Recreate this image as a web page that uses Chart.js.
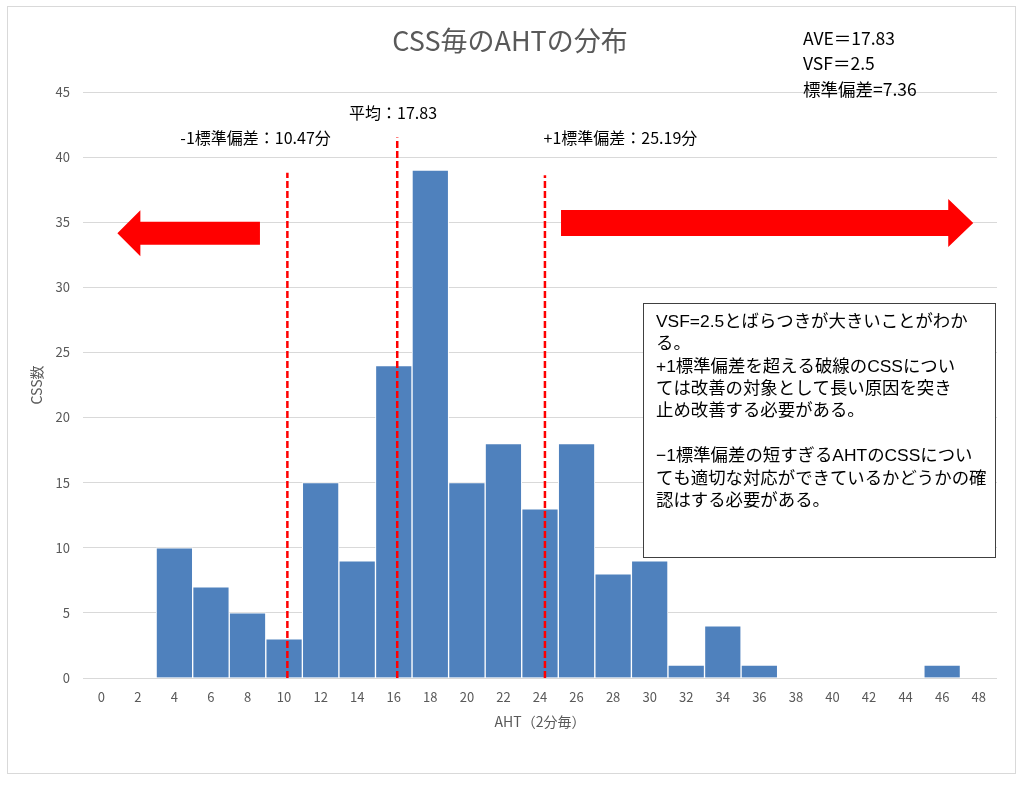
<!DOCTYPE html>
<html lang="ja">
<head>
<meta charset="utf-8">
<title>CSS毎のAHTの分布</title>
<script src="https://cdn.jsdelivr.net/npm/chart.js@4.4.1/dist/chart.umd.min.js"></script>
<style>
  html, body { margin: 0; padding: 0; background: #fff; }
  #wrap { width: 1024px; height: 785px; }
</style>
</head>
<body>
<div id="wrap"><canvas id="chart" width="1024" height="785"></canvas></div>
<script>
/* ── Data ────────────────────────────────────────────── */

const ahtBins = [0, 2, 4, 6, 8, 10, 12, 14, 16, 18, 20, 22, 24, 26, 28, 30, 32, 34, 36, 38, 40, 42, 44, 46, 48];
const cssCounts = [0, 0, 10, 7, 5, 3, 15, 9, 24, 39, 15, 18, 13, 18, 8, 9, 1, 4, 1, 0, 0, 0, 0, 1, 0];
const yTicks = [0, 5, 10, 15, 20, 25, 30, 35, 40, 45];

// dashed marker lines (-1σ, mean, +1σ) as drawn on the sheet
const markerX = [10.18, 16.19, 24.27];
const markerTop = [38.8, 41.5, 38.6];
const markerLabels = ['-1標準偏差：10.47分', '平均：17.83', '+1標準偏差：25.19分'];

const statLines = ['AVE＝17.83', 'VSF＝2.5', '標準偏差=7.36'];
const noteLines = [
  'VSF=2.5とばらつきが大きいことがわか',
  'る。',
  '+1標準偏差を超える破線のCSSについ',
  'ては改善の対象として長い原因を突き',
  '止め改善する必要がある。',
  '',
  '−1標準偏差の短すぎるAHTのCSSについ',
  'ても適切な対応ができているかどうかの確',
  '認はする必要がある。',
];

/* ── Helpers ─────────────────────────────────────────── */

const FONT = '"Noto Sans CJK JP", "Noto Sans", sans-serif';
const NOTE_FONT = '"Liberation Sans", "Noto Sans CJK JP", sans-serif';
const GREY = '#595959';

function drawText(ctx, str, x, y, size, color, align, family) {
  ctx.font = `${size}px ${family || FONT}`;
  ctx.fillStyle = color;
  ctx.textAlign = align || 'left';
  ctx.textBaseline = 'middle';
  ctx.fillText(str, x, y);
}

function drawArrow(ctx, x0, x1, yc, shaft, head, headLen) {
  const dir = x1 > x0 ? 1 : -1;
  const hx = x1 - dir * headLen;
  ctx.beginPath();
  ctx.moveTo(x0, yc - shaft / 2);
  ctx.lineTo(hx, yc - shaft / 2);
  ctx.lineTo(hx, yc - head / 2);
  ctx.lineTo(x1, yc);
  ctx.lineTo(hx, yc + head / 2);
  ctx.lineTo(hx, yc + shaft / 2);
  ctx.lineTo(x0, yc + shaft / 2);
  ctx.closePath();
  ctx.fillStyle = '#ff0000';
  ctx.fill();
}

/* ── Decorations: title, arrows, labels, note box ────── */

const decorPlugin = {
  id: 'decor',
  beforeDraw(chart) {
    const ctx = chart.ctx;
    ctx.save();
    ctx.fillStyle = '#fff';
    ctx.fillRect(0, 0, chart.width, chart.height);
    ctx.restore();
  },
  afterDatasetsDraw(chart) {
    const ctx = chart.ctx;
    const x = chart.scales.x;
    const y = chart.scales.y;
    ctx.save();
    drawArrow(ctx, x.getPixelForValue(8.68), x.getPixelForValue(0.88), y.getPixelForValue(34.15), 23, 46, 23);
    drawArrow(ctx, x.getPixelForValue(25.15), x.getPixelForValue(47.7), y.getPixelForValue(34.94), 26, 48, 25);
    ctx.restore();
  },
  afterDraw(chart) {
    const ctx = chart.ctx;
    const x = chart.scales.x;
    const y = chart.scales.y;
    const area = chart.chartArea;
    ctx.save();

    // title
    drawText(ctx, 'CSS毎のAHTの分布', 510, 41, 27, GREY, 'center');

    // summary stats, top right
    statLines.forEach((s, i) => drawText(ctx, s, 803, 38 + i * 25.5, 17.5, '#000'));

    // marker labels
    drawText(ctx, markerLabels[0], x.getPixelForValue(8.44), y.getPixelForValue(41.47), 16, '#000', 'center');
    drawText(ctx, markerLabels[1], x.getPixelForValue(15.96), y.getPixelForValue(43.43), 16, '#000', 'center');
    drawText(ctx, markerLabels[2], x.getPixelForValue(28.4), y.getPixelForValue(41.47), 16, '#000', 'center');

    // axis titles
    drawText(ctx, 'AHT（2分毎）', (area.left + area.right) / 2, 722, 14, GREY, 'center');
    ctx.save();
    ctx.translate(37, 385);
    ctx.rotate(-Math.PI / 2);
    drawText(ctx, 'CSS数', 0, 0, 14, GREY, 'center');
    ctx.restore();

    // note box
    ctx.fillStyle = '#fff';
    ctx.fillRect(643, 303, 352, 254);
    ctx.strokeStyle = '#404040';
    ctx.lineWidth = 1;
    ctx.strokeRect(643.5, 303.5, 352, 254);
    noteLines.forEach((s, i) => drawText(ctx, s, 656, 322 + i * 22.4, 17.4, '#000', 'left', NOTE_FONT));

    // outer frame
    ctx.strokeStyle = '#d9d9d9';
    ctx.strokeRect(7.5, 6.5, 1008, 767);
    ctx.restore();
  },
};

/* ── Chart ───────────────────────────────────────────── */

const markerSets = markerX.map((mx, i) => ({
  type: 'line',
  data: [{ x: mx, y: 0 }, { x: mx, y: markerTop[i] }],
  borderColor: '#ff0000',
  borderWidth: 2.5,
  borderDash: [7, 3],
  pointRadius: 0,
  order: 0,
}));

// eslint-disable-next-line no-undef
new Chart(document.getElementById('chart'), {
  type: 'bar',
  data: {
    datasets: [
      {
        data: ahtBins.map((b, i) => ({ x: b, y: cssCounts[i] })),
        backgroundColor: '#4f81bd',
        borderColor: '#ffffff',
        borderWidth: 1,
        categoryPercentage: 1,
        barPercentage: 1,
        order: 1,
      },
      ...markerSets,
    ],
  },
  options: {
    responsive: false,
    animation: false,
    layout: { padding: { left: 0, top: 92, right: 27, bottom: 67 } },
    plugins: {
      legend: { display: false },
      tooltip: { enabled: false },
    },
    scales: {
      x: {
        type: 'linear',
        min: -1,
        max: 49,
        offset: false,
        grid: { display: false, drawTicks: false, offset: false },
        border: { display: false },
        ticks: { color: GREY, font: { family: FONT, size: 13 }, padding: 11, maxRotation: 0, autoSkip: false },
        afterBuildTicks(scale) { scale.ticks = ahtBins.map(v => ({ value: v })); },
        afterFit(scale) { scale.height = 40; },
      },
      y: {
        min: 0,
        max: 45,
        ticks: { color: GREY, font: { family: FONT, size: 13 }, padding: 13 },
        afterBuildTicks(scale) { scale.ticks = yTicks.map(v => ({ value: v })); },
        grid: { color: '#d9d9d9', drawTicks: false },
        border: { display: false },
        afterFit(scale) { scale.width = 83; },
      },
    },
  },
  plugins: [decorPlugin],
});
</script>
</body>
</html>
